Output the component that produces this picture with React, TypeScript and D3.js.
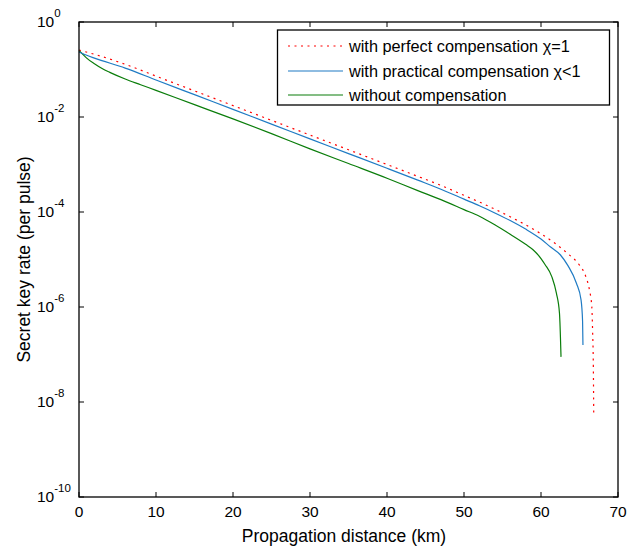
import React, { useEffect, useRef } from 'react';
import * as d3 from 'd3';

// distances (km) and log10 of the key rate
const perfectKm = [0, 2, 6, 10, 15, 20, 25, 30, 35, 40, 44, 47, 50, 52, 54, 56, 58, 60, 62, 63.5, 65, 65.8, 66.3, 66.6, 66.7, 66.8, 66.85];
const perfectLog = [-0.59, -0.68, -0.89, -1.14, -1.45, -1.76, -2.07, -2.38, -2.69, -3.0, -3.25, -3.44, -3.65, -3.79, -3.94, -4.1, -4.27, -4.46, -4.68, -4.88, -5.12, -5.35, -5.65, -6.0, -6.5, -7.3, -8.31];

const practicalKm = [0, 1, 2, 6, 10, 15, 20, 25, 30, 35, 40, 44, 47, 50, 52, 54, 56, 58, 60, 61.2, 62.5, 63.5, 64.6, 65.2, 65.4, 65.45];
const practicalLog = [-0.63, -0.7, -0.76, -0.97, -1.22, -1.53, -1.84, -2.15, -2.46, -2.77, -3.08, -3.33, -3.52, -3.73, -3.87, -4.02, -4.18, -4.36, -4.57, -4.73, -4.9, -5.13, -5.5, -5.85, -6.3, -6.8];

const withoutKm = [0, 0.5, 1, 2, 3, 4, 6, 8, 10, 15, 20, 25, 30, 35, 40, 44, 47, 50, 52, 54, 56, 58, 59, 60, 60.5, 61.4, 62, 62.4, 62.6];
const withoutLog = [-0.6, -0.68, -0.76, -0.88, -0.98, -1.06, -1.2, -1.32, -1.44, -1.74, -2.04, -2.35, -2.67, -2.98, -3.29, -3.55, -3.74, -3.95, -4.09, -4.27, -4.47, -4.68, -4.8, -4.98, -5.1, -5.36, -5.71, -6.13, -7.05];

const xTicks = [0, 10, 20, 30, 40, 50, 60, 70];
const yExponents = [0, -2, -4, -6, -8, -10];

const legendLabels = ['with perfect compensation \u03c7=1', 'with practical compensation \u03c7<1', 'without compensation'];

export default function App() {
  const svgRef = useRef<SVGSVGElement>(null);

  useEffect(() => {
    if (!svgRef.current) return;
    const svg = d3.select(svgRef.current);
    svg.selectAll('*').remove();

    const left = 79, right = 618, top = 22, bottom = 497;
    const x = d3.scaleLinear().domain([0, 70]).range([left, right]);
    const y = d3.scaleLog().domain([1e-10, 1]).range([bottom, top]);

    const font = '"Liberation Sans", Arial, sans-serif';
    const g = svg.append('g').attr('font-family', font).attr('font-size', 15.5);

    const series = [
      { km: perfectKm, lg: perfectLog, color: '#ff0000', dash: '2,4.5' },
      { km: practicalKm, lg: practicalLog, color: '#1f7bc4', dash: null },
      { km: withoutKm, lg: withoutLog, color: '#0a7d0a', dash: null },
    ];

    const line = d3.line<[number, number]>()
      .curve(d3.curveMonotoneX)
      .x(d => x(d[0]))
      .y(d => y(d[1]));

    // back to front: green, blue, red
    [...series].reverse().forEach(s => {
      g.append('path')
        .datum(s.km.map((k, i) => [k, Math.pow(10, s.lg[i])] as [number, number]))
        .attr('fill', 'none')
        .attr('stroke', s.color)
        .attr('stroke-width', 1.2)
        .attr('stroke-dasharray', s.dash)
        .attr('d', line);
    });

    // box
    g.append('rect')
      .attr('x', left).attr('y', top)
      .attr('width', right - left).attr('height', bottom - top)
      .attr('fill', 'none').attr('stroke', '#000').attr('stroke-width', 1.3);

    // x ticks, inward on top and bottom
    xTicks.forEach(t => {
      const px = x(t);
      g.append('line').attr('x1', px).attr('x2', px).attr('y1', bottom).attr('y2', bottom - 5).attr('stroke', '#000');
      g.append('line').attr('x1', px).attr('x2', px).attr('y1', top).attr('y2', top + 5).attr('stroke', '#000');
      g.append('text')
        .attr('x', px).attr('y', bottom + 20)
        .attr('text-anchor', 'middle')
        .attr('fill', '#000')
        .text(t);
    });

    // y ticks
    yExponents.forEach(e => {
      const py = y(Math.pow(10, e));
      g.append('line').attr('x1', left).attr('x2', left + 5).attr('y1', py).attr('y2', py).attr('stroke', '#000');
      g.append('line').attr('x1', right).attr('x2', right - 5).attr('y1', py).attr('y2', py).attr('stroke', '#000');
      const txt = g.append('text').attr('x', 37).attr('y', py + 5).attr('fill', '#000');
      txt.append('tspan').text('10');
      txt.append('tspan').attr('dy', -10).attr('font-size', 11.5).text(String(e));
    });

    // axis labels
    g.append('text')
      .attr('x', 344).attr('y', 542)
      .attr('text-anchor', 'middle').attr('fill', '#000')
      .attr('font-size', 17.5)
      .text('Propagation distance (km)');
    g.append('text')
      .attr('transform', `translate(29.5,${(top + bottom) / 2}) rotate(-90)`)
      .attr('text-anchor', 'middle').attr('fill', '#000')
      .attr('font-size', 17.5)
      .text('Secret key rate (per pulse)');

    // legend
    const lg = g.append('g');
    lg.append('rect')
      .attr('x', 277.5).attr('y', 30)
      .attr('width', 332).attr('height', 75)
      .attr('fill', '#fff').attr('stroke', '#000').attr('stroke-width', 1.3);
    const rowY = [46, 71, 95];
    series.forEach((s, i) => {
      lg.append('line')
        .attr('x1', 288).attr('x2', 343)
        .attr('y1', rowY[i]).attr('y2', rowY[i])
        .attr('stroke', s.color).attr('stroke-width', 1.2)
        .attr('stroke-dasharray', s.dash);
      lg.append('text')
        .attr('x', 349).attr('y', rowY[i] + 6)
        .attr('fill', '#000')
        .attr('font-size', 16.3)
        .text(legendLabels[i]);
    });
  }, []);

  return (
    <svg
      ref={svgRef}
      width={641}
      height={553}
      style={{ position: 'absolute', left: 0, top: 0, background: '#fff' }}
    />
  );
}
